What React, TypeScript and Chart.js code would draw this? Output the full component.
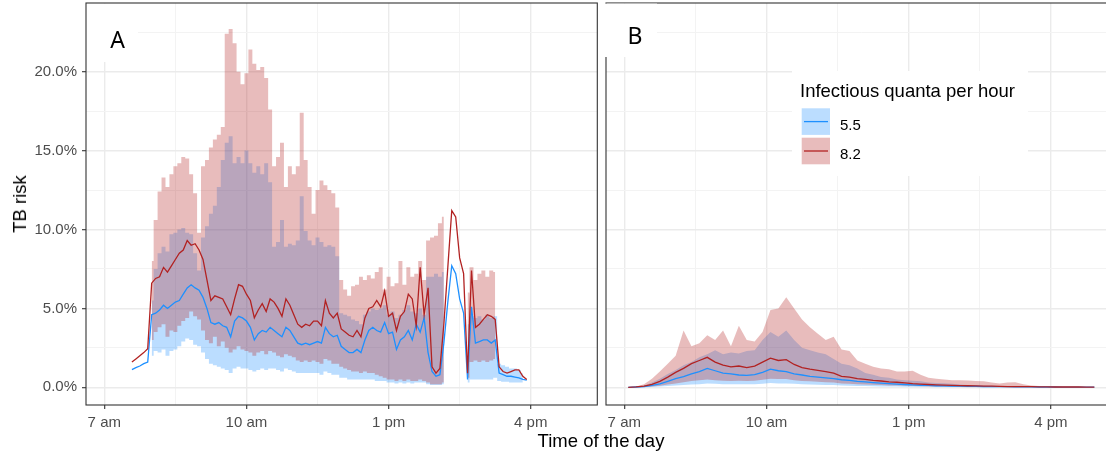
import React, { useEffect, useRef } from "react";
import { Chart, registerables } from "chart.js";
Chart.register(...registerables);

// ---------- axes ----------
const X_MIN = 6.614;
const X_MAX = 17.405;
const Y_MIN = -1.12;
const Y_MAX = 24.35;
const X_TICKS = [7, 8.5, 10, 11.5, 13, 14.5, 16];
const X_MAJOR = [7, 10, 13, 16];
const X_LABELS = ["7 am", "10 am", "1 pm", "4 pm"];
const Y_TICKS = [0, 2.5, 5, 7.5, 10, 12.5, 15, 17.5, 20, 22.5];
const Y_MAJOR = [0, 5, 10, 15, 20];

const Y_TITLE = "TB risk";
const X_TITLE = "Time of the day";
const LEGEND_TITLE = "Infectious quanta per hour";
const SERIES_NAMES = ["5.5", "8.2"];

// ---------- panel A (5-minute steps from 7:35) ----------
const A_START = 7 + 35 / 60;
const A_STEP = 5 / 60;
const A_RED_MEAN = [1.6, 1.8, 2.0, 2.2, 2.45, 6.6, 6.9, 7.0, 7.6, 7.3, 7.7, 8.1, 8.5, 8.7, 9.3, 9.0, 9.1, 8.7, 8.1, 6.8, 5.5, 5.8, 5.7, 5.6, 5.1, 4.6, 5.6, 6.5, 6.4, 5.9, 5.5, 4.4, 4.9, 5.3, 4.8, 5.6, 5.4, 5.0, 4.5, 5.6, 5.2, 4.6, 4.0, 3.8, 4.0, 3.9, 4.2, 4.2, 3.9, 5.5, 4.7, 4.4, 4.7, 3.7, 3.5, 3.3, 3.2, 3.6, 3.2, 4.4, 5.0, 5.1, 5.5, 5.1, 6.1, 4.5, 4.7, 3.6, 4.5, 4.8, 5.9, 5.6, 3.9, 7.6, 4.6, 6.3, 1.3, 0.9, 1.2, 4.0, 7.6, 11.2, 10.8, 8.2, 7.2, 0.9, 7.4, 3.8, 4.0, 4.3, 4.6, 4.5, 4.3, 1.3, 1.0, 0.9, 1.0, 1.1, 1.1, 0.7, 0.5];
const A_BLUE_MEAN = [1.12, 1.25, 1.35, 1.5, 1.6, 4.6, 4.7, 4.9, 5.2, 5.0, 5.2, 5.4, 5.5, 5.9, 6.3, 6.5, 6.3, 6.15, 5.7, 5.0, 4.1, 4.0, 4.1, 3.9, 3.8, 3.2, 4.2, 4.5, 4.4, 4.2, 3.8, 3.0, 3.4, 3.6, 3.5, 3.8, 3.6, 3.4, 3.2, 3.8, 3.6, 3.2, 2.8, 2.7, 2.8, 2.7, 2.8, 2.9, 2.8, 3.8, 3.4, 3.2, 3.3, 2.6, 2.4, 2.2, 2.2, 2.4, 2.2, 3.0, 3.6, 3.8, 3.6, 3.5, 4.1, 3.4, 3.5, 2.4, 3.0, 3.2, 3.6, 3.0, 4.0, 3.5, 4.4, 2.2, 1.0, 0.7, 0.8, 2.8, 5.4, 7.7, 7.2, 5.6, 4.7, 0.5, 5.1, 2.8, 2.9, 3.0, 3.0, 2.8, 3.0, 0.9, 0.8, 0.7, 0.7, 0.65, 0.6, 0.5, 0.45];
const A_RED_HI = [null, null, null, null, null, 8.0, 10.6, 12.4, 13.3, 12.7, 13.5, 14.0, 14.2, 14.6, 14.5, 13.5, 12.3, 9.8, 14.0, 14.4, 15.2, 15.7, 16.0, 16.5, 22.4, 22.7, 21.8, 20.0, 19.2, 19.9, 21.4, 20.5, 20.1, 20.3, 19.6, 17.6, 14.0, 14.6, 15.5, 12.7, 14.0, 13.5, 14.0, 17.4, 14.4, 12.7, 11.0, 12.5, 13.1, 12.8, 12.5, 12.3, 11.4, 6.8, 6.2, 5.8, 6.4, 6.5, 7.0, 6.8, 7.1, 6.9, 7.3, 7.6, 6.2, 7.0, 6.4, 6.6, 8.0, 6.5, 7.6, 7.0, 7.2, 8.0, 6.8, 9.3, 9.5, 9.6, 10.4, 10.8, null, null, null, null, null, 6.0, 7.6, 6.8, 7.2, 7.4, 7.0, 7.4, 7.3, null, null, null, null, null, null, null, null];
const A_RED_LO = [null, null, null, null, null, 3.0, 3.5, 3.8, 4.0, 3.2, 3.6, 3.5, 3.9, 4.2, 4.4, 4.8, 4.5, 4.3, 3.6, 3.0, 2.8, 3.2, 2.6, 2.9, 2.5, 2.2, 2.4, 2.6, 2.4, 2.3, 2.2, 2.0, 2.2, 2.3, 2.1, 2.3, 2.2, 2.0, 1.9, 2.1, 2.0, 1.9, 1.7, 1.6, 1.7, 1.6, 1.7, 1.6, 1.5, 1.8, 1.7, 1.5, 1.5, 1.3, 1.2, 1.1, 1.0, 1.0, 0.9, 1.0, 0.9, 0.9, 0.8, 0.7, 0.6, 0.5, 0.5, 0.4, 0.5, 0.4, 0.5, 0.4, 0.4, 0.5, 0.4, 0.3, 0.2, 0.2, 0.2, 0.3, null, null, null, null, null, 0.6, 1.6, 1.7, 1.6, 1.7, 1.6, 1.7, 1.8, null, null, null, null, null, null, null, null];
const A_BLUE_HI = [null, null, null, null, null, 5.5, 7.5, 8.5, 8.9, 8.6, 9.7, 9.8, 10.0, 10.1, 9.8, 9.7, 8.5, 7.4, 9.5, 10.2, 11.0, 11.5, 12.7, 14.4, 15.5, 15.9, 14.2, 14.6, 14.2, 15.0, 14.2, 13.6, 14.0, 13.5, 14.2, 13.0, 8.9, 9.2, 10.6, 8.9, 9.1, 9.0, 9.3, 12.1, 9.9, 9.3, 9.0, 9.5, 9.2, 8.9, 9.0, 8.9, 8.3, 4.7, 4.6, 4.5, 4.3, 4.2, 4.0, 4.6, 4.8, 5.0, 4.9, 5.0, 5.2, 4.6, 4.8, 4.4, 4.6, 4.9, 5.2, 4.8, 4.7, 5.0, 4.6, 7.0, 7.0, 7.2, 7.0, 7.3, null, null, null, null, null, 4.0, 4.5, 4.4, 4.5, 4.3, 4.6, 4.4, 4.5, 1.5, 1.4, 1.3, 1.2, 1.2, 1.1, 0.9, null];
const A_BLUE_LO = [null, null, null, null, null, 2.0, 2.3, 2.2, 2.4, 2.0, 2.3, 2.4, 2.6, 2.9, 3.1, 3.0, 2.7, 2.6, 2.2, 1.8, 1.5, 1.4, 1.3, 1.2, 1.1, 0.9, 1.2, 1.3, 1.2, 1.2, 1.1, 1.0, 1.1, 1.2, 1.1, 1.2, 1.2, 1.1, 1.0, 1.2, 1.1, 1.0, 0.9, 0.9, 0.9, 0.9, 0.9, 0.9, 0.8, 1.0, 0.9, 0.8, 0.8, 0.6, 0.6, 0.5, 0.5, 0.5, 0.5, 0.5, 0.5, 0.5, 0.4, 0.4, 0.4, 0.3, 0.3, 0.25, 0.3, 0.25, 0.3, 0.25, 0.3, 0.3, 0.3, 0.2, 0.15, 0.15, 0.15, 0.2, null, null, null, null, null, 0.3, 0.5, 0.5, 0.5, 0.5, 0.5, 0.5, 0.6, 0.4, 0.35, 0.35, 0.3, 0.3, 0.3, 0.3, null];

// ---------- panel B (10-minute steps from 7:05) ----------
const B_START = 7 + 5 / 60;
const B_STEP = 10 / 60;
const B_RED_MEAN = [0.0, 0.03, 0.08, 0.19, 0.38, 0.65, 0.95, 1.2, 1.5, 1.7, 1.9, 1.6, 1.4, 1.3, 1.35, 1.25, 1.35, 1.6, 1.85, 1.7, 1.75, 1.45, 1.25, 1.15, 1.08, 1.0, 0.9, 0.7, 0.65, 0.55, 0.5, 0.44, 0.4, 0.35, 0.32, 0.28, 0.23, 0.2, 0.18, 0.16, 0.14, 0.12, 0.11, 0.1, 0.09, 0.08, 0.07, 0.06, 0.05, 0.05, 0.04, 0.04, 0.03, 0.03, 0.02, 0.02, 0.02, 0.02, 0.01, 0.01];
const B_BLUE_MEAN = [0.0, 0.02, 0.05, 0.12, 0.22, 0.38, 0.55, 0.68, 0.85, 1.0, 1.2, 1.05, 0.9, 0.85, 0.78, 0.76, 0.8, 0.95, 1.15, 1.05, 1.0, 0.85, 0.78, 0.7, 0.65, 0.6, 0.55, 0.48, 0.44, 0.38, 0.34, 0.3, 0.26, 0.23, 0.2, 0.18, 0.15, 0.13, 0.12, 0.1, 0.09, 0.08, 0.07, 0.06, 0.06, 0.05, 0.05, 0.04, 0.04, 0.03, 0.03, 0.03, 0.02, 0.02, 0.02, 0.01, 0.01, 0.01, 0.01, 0.01];
const B_RED_HI = [0.0, 0.05, 0.2, 0.55, 1.0, 1.5, 2.0, 3.6, 2.6, 2.8, 3.3, 3.0, 3.6, 2.6, 3.9, 3.0, 2.9, 3.5, 4.9, 5.0, 5.7, 5.0, 4.3, 3.8, 3.4, 3.0, 3.2, 2.4, 2.3, 1.7, 1.5, 1.3, 1.2, 1.15, 1.0, 1.0, 1.05, 0.8, 0.6, 0.55, 0.5, 0.45, 0.45, 0.44, 0.4, 0.38, 0.3, 0.25, 0.3, 0.32, 0.2, 0.12, 0.08, 0.05, 0.04, 0.04, 0.03, 0.03, 0.02, 0.02];
const B_RED_LO = [0, 0.01, 0.02, 0.05, 0.1, 0.18, 0.25, 0.32, 0.4, 0.45, 0.5, 0.45, 0.42, 0.4, 0.42, 0.4, 0.42, 0.48, 0.55, 0.52, 0.52, 0.45, 0.4, 0.38, 0.35, 0.32, 0.3, 0.25, 0.22, 0.2, 0.18, 0.16, 0.14, 0.12, 0.11, 0.1, 0.08, 0.07, 0.06, 0.05, 0.05, 0.04, 0.04, 0.03, 0.03, 0.03, 0.02, 0.02, 0.02, 0.02, 0.02, 0.01, 0.01, 0.01, 0.01, 0.01, 0.01, 0, 0, 0];
const B_BLUE_HI = [0.0, 0.03, 0.1, 0.3, 0.55, 0.85, 1.1, 1.4, 1.6, 1.9, 2.1, 2.35, 2.1, 2.2, 2.14, 2.3, 2.35, 3.0, 3.5, 3.2, 3.6, 3.0, 2.5, 2.35, 2.2, 2.1, 1.8, 1.5, 1.4, 1.2, 0.9, 0.8, 0.65, 0.6, 0.5, 0.45, 0.42, 0.38, 0.3, 0.28, 0.26, 0.22, 0.18, 0.15, 0.14, 0.12, 0.1, 0.08, 0.08, 0.07, 0.06, 0.05, 0.04, 0.03, 0.03, 0.02, 0.02, 0.02, 0.01, 0.01];
const B_BLUE_LO = [0, 0, 0.01, 0.02, 0.05, 0.08, 0.12, 0.15, 0.18, 0.2, 0.24, 0.22, 0.2, 0.19, 0.2, 0.19, 0.2, 0.23, 0.27, 0.25, 0.25, 0.22, 0.19, 0.18, 0.17, 0.15, 0.14, 0.12, 0.1, 0.09, 0.08, 0.07, 0.06, 0.05, 0.05, 0.04, 0.04, 0.03, 0.03, 0.02, 0.02, 0.02, 0.02, 0.01, 0.01, 0.01, 0.01, 0.01, 0.01, 0.01, 0.01, 0, 0, 0, 0, 0, 0, 0, 0, 0];

// ---------- styles ----------
const FONT = '"Liberation Sans", Arial, sans-serif';
const RED = "#B22222";
const BLUE = "#1E90FF";
const RED_FILL = "rgba(178,34,34,0.3)";
const BLUE_FILL = "rgba(30,144,255,0.3)";

type Arr = (number | null)[];
function pts(start: number, step: number, arr: Arr) {
  return arr.map((v, i) => ({ x: start + i * step, y: v }));
}

type Spec = {
  label: string;
  labelX: number;
  labelBase: number;
  box: [number, number, number, number];
  coverBorder: boolean;
  showY: boolean;
  yWidth: number;
  padRight: number;
  legend: boolean;
  stepped: boolean;
  start: number;
  step: number;
  redMean: Arr; blueMean: Arr; redHi: Arr; redLo: Arr; blueHi: Arr; blueLo: Arr;
};

function makeConfig(s: Spec): any {
  const band = {
    borderColor: "rgba(0,0,0,0)",
    borderWidth: 0,
    pointRadius: 0,
    spanGaps: false,
    stepped: s.stepped ? "middle" : false,
  };
  const datasets = [
    { data: pts(s.start, s.step, s.redMean), borderColor: RED, borderWidth: 1.3, pointRadius: 0, fill: false },
    { data: pts(s.start, s.step, s.blueMean), borderColor: BLUE, borderWidth: 1.3, pointRadius: 0, fill: false },
    { ...band, data: pts(s.start, s.step, s.redHi), fill: 3, backgroundColor: RED_FILL },
    { ...band, data: pts(s.start, s.step, s.redLo), fill: false },
    { ...band, data: pts(s.start, s.step, s.blueHi), fill: 5, backgroundColor: BLUE_FILL },
    { ...band, data: pts(s.start, s.step, s.blueLo), fill: false },
  ];

  const decor = {
    id: "decor",
    afterDraw(chart: any) {
      const ctx = chart.ctx;
      const a = chart.chartArea;
      ctx.save();
      const drawBorder = () => {
        ctx.strokeStyle = "#333333";
        ctx.lineWidth = 1.1;
        ctx.strokeRect(a.left, a.top, a.right - a.left, a.bottom - a.top);
      };
      if (s.coverBorder) drawBorder();
      const [bx0, by0, bx1, by1] = s.box;
      ctx.fillStyle = "#ffffff";
      ctx.fillRect(bx0, by0, bx1 - bx0, by1 - by0);
      if (!s.coverBorder) drawBorder();
      ctx.fillStyle = "#000000";
      ctx.font = '23px "Noto Sans", sans-serif';
      ctx.textAlign = "center";
      ctx.textBaseline = "alphabetic";
      ctx.fillText(s.label, s.labelX, s.labelBase);

      if (s.legend) {
        ctx.fillStyle = "#ffffff";
        ctx.fillRect(192, 71, 236, 105);
        ctx.fillStyle = "#000000";
        ctx.textAlign = "left";
        ctx.font = "18.5px " + FONT;
        ctx.fillText(LEGEND_TITLE, 200, 96.5);
        const keys = [
          { y0: 108.3, fill: BLUE_FILL, line: BLUE, base: 129.8 },
          { y0: 137.7, fill: RED_FILL, line: RED, base: 159.3 },
        ];
        keys.forEach((k, i) => {
          ctx.fillStyle = k.fill;
          ctx.fillRect(201.7, k.y0, 28.3, 26.6);
          ctx.strokeStyle = k.line;
          ctx.lineWidth = 1.3;
          ctx.beginPath();
          ctx.moveTo(204, k.y0 + 13.3);
          ctx.lineTo(228, k.y0 + 13.3);
          ctx.stroke();
          ctx.fillStyle = "#000000";
          ctx.font = "15px " + FONT;
          ctx.fillText(SERIES_NAMES[i], 240, k.base);
        });
      }
      ctx.restore();
    },
  };

  const isXMajor = (v: number) => X_MAJOR.indexOf(v) >= 0;
  const isYMajor = (v: number) => Y_MAJOR.indexOf(v) >= 0;

  return {
    type: "line",
    data: { datasets },
    plugins: [decor],
    options: {
      responsive: false,
      animation: false,
      devicePixelRatio: 1,
      events: [],
      layout: { padding: { left: 0, right: s.padRight, top: 3, bottom: 0 } },
      elements: { point: { radius: 0, hoverRadius: 0 }, line: { tension: 0 } },
      plugins: {
        legend: { display: false },
        tooltip: { enabled: false },
        filler: { propagate: false, drawTime: "beforeDatasetsDraw" },
      },
      scales: {
        x: {
          type: "linear",
          min: X_MIN,
          max: X_MAX,
          afterBuildTicks: (axis: any) => {
            axis.ticks = X_TICKS.map((v) => ({ value: v }));
          },
          afterFit: (scale: any) => {
            scale.height = 49;
            scale.paddingLeft = 0;
            scale.paddingRight = 0;
          },
          border: { display: false },
          grid: {
            color: (c: any) => (c.tick && isXMajor(c.tick.value) ? "#EBEBEB" : "#F3F3F3"),
            lineWidth: (c: any) => (c.tick && isXMajor(c.tick.value) ? 1.4 : 1),
            tickColor: (c: any) => (c.tick && isXMajor(c.tick.value) ? "#333333" : "rgba(0,0,0,0)"),
            tickLength: 4,
            tickWidth: 1.1,
            drawTicks: true,
          },
          ticks: {
            autoSkip: false,
            maxRotation: 0,
            padding: 5,
            color: "#4D4D4D",
            font: { family: FONT, size: 15 },
            callback: (v: any) => {
              const i = X_MAJOR.indexOf(Number(v));
              return i >= 0 ? X_LABELS[i] : "";
            },
          },
        },
        y: {
          type: "linear",
          min: Y_MIN,
          max: Y_MAX,
          afterBuildTicks: (axis: any) => {
            axis.ticks = Y_TICKS.map((v) => ({ value: v }));
          },
          afterFit: (scale: any) => {
            scale.width = s.yWidth;
            scale.paddingTop = 0;
            scale.paddingBottom = 0;
          },
          border: { display: false },
          grid: {
            color: (c: any) => (c.tick && isYMajor(c.tick.value) ? "#EBEBEB" : "#F3F3F3"),
            lineWidth: (c: any) => (c.tick && isYMajor(c.tick.value) ? 1.4 : 1),
            tickColor: (c: any) => (c.tick && isYMajor(c.tick.value) ? "#333333" : "rgba(0,0,0,0)"),
            tickLength: 4,
            tickWidth: 1.1,
            drawTicks: s.showY,
          },
          ticks: {
            display: s.showY,
            autoSkip: false,
            padding: 5,
            color: "#4D4D4D",
            font: { family: FONT, size: 15 },
            callback: (v: any) => (isYMajor(Number(v)) ? Number(v).toFixed(1) + "%" : ""),
          },
        },
      },
    },
  };
}

function Panel({ spec, left, width }: { spec: Spec; left: number; width: number }) {
  const ref = useRef<HTMLCanvasElement | null>(null);
  useEffect(() => {
    if (!ref.current) return;
    const chart = new Chart(ref.current, makeConfig(spec));
    return () => chart.destroy();
  }, []);
  return (
    <canvas
      ref={ref}
      width={width}
      height={454}
      style={{ position: "absolute", left, top: 0, width, height: 454 }}
    />
  );
}

const SPEC_A: Spec = {
  label: "A",
  labelX: 117.5,
  labelBase: 48.3,
  box: [86, 3.6, 138, 62],
  coverBorder: false,
  showY: true,
  yWidth: 86,
  padRight: 2.7,
  legend: false,
  stepped: true,
  start: A_START,
  step: A_STEP,
  redMean: A_RED_MEAN, blueMean: A_BLUE_MEAN, redHi: A_RED_HI, redLo: A_RED_LO, blueHi: A_BLUE_HI, blueLo: A_BLUE_LO,
};

const SPEC_B: Spec = {
  label: "B",
  labelX: 35,
  labelBase: 44,
  box: [4, 3.6, 57, 57],
  coverBorder: true,
  showY: false,
  yWidth: 6,
  padRight: 2.5,
  legend: true,
  stepped: false,
  start: B_START,
  step: B_STEP,
  redMean: B_RED_MEAN, blueMean: B_BLUE_MEAN, redHi: B_RED_HI, redLo: B_RED_LO, blueHi: B_BLUE_HI, blueLo: B_BLUE_LO,
};

export default function App() {
  return (
    <div
      style={{
        position: "fixed",
        left: 0,
        top: 0,
        width: 1106,
        height: 454,
        overflow: "hidden",
        background: "#ffffff",
      }}
    >
      <Panel spec={SPEC_A} left={0} width={600} />
      <Panel spec={SPEC_B} left={600} width={520} />
      <div
        style={{
          position: "absolute",
          left: 20,
          top: 204,
          transform: "translate(-50%, -50%) rotate(-90deg)",
          fontFamily: FONT,
          fontSize: 18.5,
          color: "#000",
          whiteSpace: "nowrap",
        }}
      >
        {Y_TITLE}
      </div>
      <div
        style={{
          position: "absolute",
          left: 601,
          top: 441,
          transform: "translate(-50%, -50%)",
          fontFamily: FONT,
          fontSize: 18.5,
          color: "#000",
          whiteSpace: "nowrap",
        }}
      >
        {X_TITLE}
      </div>
    </div>
  );
}
